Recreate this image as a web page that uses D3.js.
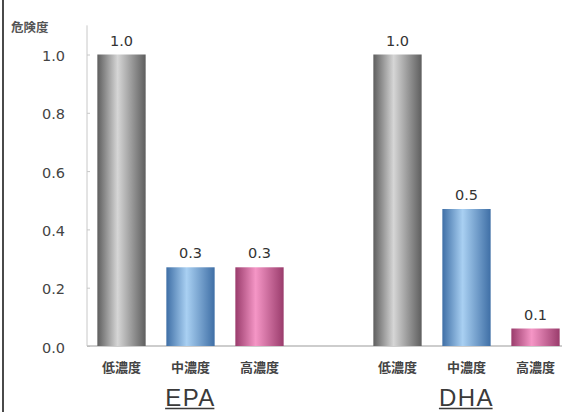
<!DOCTYPE html>
<html>
<head>
<meta charset="utf-8">
<script src="https://cdn.jsdelivr.net/npm/d3@7"></script>
<style>
  html, body { margin: 0; padding: 0; background: #fff; }
  svg { display: block; }
</style>
</head>
<body>
<svg id="chart" width="567" height="412"></svg>
<script>
// Relative risk by concentration level, for EPA and DHA
const groups = ["EPA", "DHA"];
const levels = ["低濃度", "中濃度", "高濃度"];
const epaValues = [1.0, 0.27, 0.27];
const dhaValues = [1.0, 0.47, 0.06];
const yTicks = [0.0, 0.2, 0.4, 0.6, 0.8, 1.0];
const yTitle = "危険度";

const seriesByGroup = { EPA: epaValues, DHA: dhaValues };

// one slot per bar, with an empty slot between the two groups
const slots = [];
groups.forEach((g, gi) => {
  if (gi > 0) slots.push({ key: "gap" + gi, gap: true });
  levels.forEach((lv, li) => slots.push({ key: g + "-" + li, group: g, level: lv, li, value: seriesByGroup[g][li] }));
});
const bars = slots.filter(s => !s.gap);

const svg = d3.select("#chart");
const W = 567, H = 412;
const left = 87, bottom = 346;
const numFont = "'DejaVu Sans', Verdana, sans-serif";
const cjkFont = "'Noto Sans CJK JP', sans-serif";

const x = d3.scaleBand().domain(slots.map(s => s.key)).range([left, 570]).paddingInner(0.3).paddingOuter(0.15);
const y = d3.scaleLinear().domain([0, 1.1]).range([bottom, bottom - 291.5 * 1.1]);
const fmt = d3.format(".1f");

// gradients: dark edges, light centre
const palettes = [
  { id: "gGrey", edge: "#5e5e5e", mid: "#d6d6d6" },
  { id: "gBlue", edge: "#3f6fa6", mid: "#a9d0f2" },
  { id: "gPink", edge: "#9a3c6c", mid: "#f596c6" }
];
const defs = svg.append("defs");
palettes.forEach(p => {
  const lg = defs.append("linearGradient").attr("id", p.id).attr("x1", "0%").attr("x2", "100%");
  lg.append("stop").attr("offset", "0%").attr("stop-color", p.edge);
  lg.append("stop").attr("offset", "42%").attr("stop-color", p.mid);
  lg.append("stop").attr("offset", "100%").attr("stop-color", p.edge);
});

// frame on the left side
svg.append("line").attr("x1", 3).attr("x2", 3).attr("y1", 0).attr("y2", H)
  .attr("stroke", "#4a4a4a").attr("stroke-width", 2);

// y axis
const yAxis = d3.axisLeft(y).tickValues(yTicks).tickFormat(fmt).tickSize(3).tickPadding(19);
const ga = svg.append("g").attr("transform", `translate(${left},0)`).call(yAxis);
ga.select(".domain").attr("stroke", "#c8c8c8").attr("d", `M0,${y(1.1)}V${bottom}`);
ga.selectAll(".tick line").attr("stroke", "#c8c8c8").attr("x2", 3);
ga.selectAll(".tick text")
  .attr("fill", "#444").attr("font-family", numFont)
  .attr("font-size", 14.5).attr("dy", "0.42em");

// baseline
svg.append("line").attr("x1", left).attr("x2", 562).attr("y1", bottom).attr("y2", bottom)
  .attr("stroke", "#bdbdbd").attr("stroke-width", 1.5);

// y title
svg.append("text").attr("x", 11).attr("y", 32).text(yTitle)
  .attr("font-family", cjkFont).attr("font-weight", "bold")
  .attr("font-size", 12.5).attr("fill", "#555");

// bars
svg.append("g").selectAll("rect").data(bars).join("rect")
  .attr("x", d => x(d.key)).attr("width", x.bandwidth())
  .attr("y", d => y(d.value)).attr("height", d => y(0) - y(d.value))
  .attr("fill", d => `url(#${palettes[d.li].id})`);

// value labels
svg.append("g").selectAll("text").data(bars).join("text")
  .attr("x", d => x(d.key) + x.bandwidth() / 2).attr("y", d => y(d.value) - 9)
  .attr("text-anchor", "middle").text(d => fmt(d.value))
  .attr("font-family", numFont).attr("font-size", 14.5)
  .attr("fill", "#333");

// level labels
svg.append("g").selectAll("text").data(bars).join("text")
  .attr("x", d => x(d.key) + x.bandwidth() / 2).attr("y", 372)
  .attr("text-anchor", "middle").text(d => d.level)
  .attr("font-family", cjkFont).attr("font-weight", "bold")
  .attr("font-size", 13).attr("fill", "#444");

// group labels, underlined
groups.forEach(g => {
  const mid = x(g + "-1") + x.bandwidth() / 2;
  const t = svg.append("text").attr("x", mid).attr("y", 406).attr("text-anchor", "middle")
    .text(g).attr("font-family", "'Liberation Sans', Arial, sans-serif")
    .attr("font-size", 24).attr("letter-spacing", 1.5).attr("fill", "#3a3a3a");
  const bb = t.node().getBBox();
  svg.append("line").attr("x1", bb.x).attr("x2", bb.x + bb.width - 1.5).attr("y1", 408.5).attr("y2", 408.5)
    .attr("stroke", "#3a3a3a").attr("stroke-width", 1.3);
});
</script>
</body>
</html>
